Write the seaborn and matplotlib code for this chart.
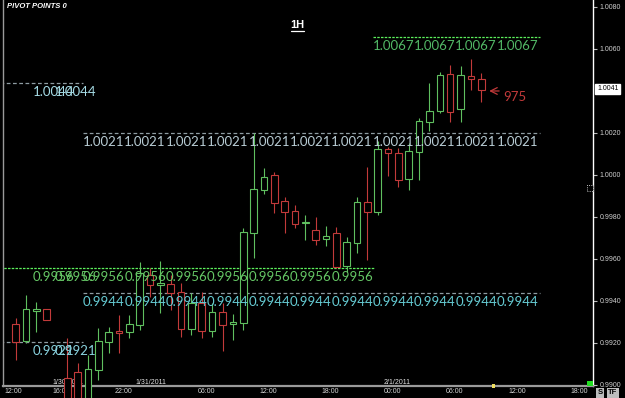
import matplotlib
matplotlib.use("Agg")
import matplotlib.pyplot as plt
import matplotlib.transforms as mtransforms
from matplotlib.patches import Rectangle
from matplotlib.lines import Line2D
from matplotlib import font_manager
import numpy as np
import pandas as pd
import seaborn as sns

# ---------------- data ----------------
slots = [-10, -9, -8, -7, -5, -4, -3, -2, -1, 0, 1, 2, 3, 4, 5, 6, 7, 8, 9, 10,
         11, 12, 13, 14, 15, 16, 17, 18, 19, 20, 21, 22, 23, 24, 25, 26, 27,
         28, 29, 30, 31, 32, 33, 34, 35]
opens = [0.99290, 0.99210, 0.99352, 0.99362, 0.99033, 0.99062, 0.98920, 0.99071,
         0.99205, 0.99257, 0.99252, 0.99286, 0.99524, 0.99476, 0.99481, 0.99443,
         0.99267, 0.99390, 0.99257, 0.99348, 0.99290, 0.99295, 0.99724, 0.99929,
         1.00000, 0.99876, 0.99829, 0.99771, 0.99738, 0.99695, 0.99724, 0.99567,
         0.99676, 0.99871, 0.99824, 1.00124, 1.00107, 0.99981, 1.00110, 1.00252,
         1.00305, 1.00481, 1.00312, 1.00473, 1.00456]
highs = [0.99319, 0.99429, 0.99395, 0.99362, 0.99224, 0.99105, 0.99143, 0.99271,
         0.99276, 0.99333, 0.99333, 0.99586, 0.99557, 0.99590, 0.99524, 0.99486,
         0.99438, 0.99443, 0.99390, 0.99390, 0.99338, 0.99748, 1.00200, 1.00033,
         1.00014, 0.99895, 0.99857, 0.99810, 0.99798, 0.99757, 0.99752, 0.99705,
         0.99895, 1.00038, 1.00162, 1.00133, 1.00129, 1.00152, 1.00271, 1.00438,
         1.00490, 1.00524, 1.00519, 1.00551, 1.00486]
lows = [0.99119, 0.99200, 0.99252, 0.99310, 0.98860, 0.98880, 0.98900, 0.99024,
        0.99152, 0.99152, 0.99224, 0.99262, 0.99419, 0.99343, 0.99357, 0.99229,
        0.99238, 0.99224, 0.99229, 0.99162, 0.99214, 0.99262, 0.99605, 0.99910,
        0.99819, 0.99724, 0.99748, 0.99690, 0.99667, 0.99662, 0.99557, 0.99538,
        0.99629, 0.99595, 0.99810, 0.99995, 0.99943, 0.99929, 0.99976, 1.00210,
        1.00295, 1.00252, 1.00252, 1.00405, 1.00349]
closes = [0.99205, 0.99362, 0.99362, 0.99310, 0.98900, 0.98920, 0.99076, 0.99210,
          0.99252, 0.99248, 0.99290, 0.99533, 0.99476, 0.99486, 0.99438, 0.99267,
          0.99390, 0.99257, 0.99348, 0.99286, 0.99300, 0.99729, 0.99933, 0.99990,
          0.99867, 0.99824, 0.99767, 0.99778, 0.99690, 0.99710, 0.99562, 0.99681,
          0.99869, 0.99824, 1.00124, 1.00105, 0.99974, 1.00114, 1.00257, 1.00305,
          1.00476, 1.00301, 1.00476, 1.00456, 1.00405]

time_tick_pos = [-11.1, -6.4, -0.4, 7.6, 13.6, 19.6, 25.6, 31.6, 37.6, 43.6]
time_tick_labels = ["12:00", "16:00", "22:00", "06:00", "12:00", "18:00",
                    "00:00", "06:00", "12:00", "18:00"]
date_pos = [-6.4, 1.6, 25.6]
date_labels = ["1/30/2011", "1/31/2011", "2/1/2011"]

# 1.0040 is hidden behind the current-price box in the reference
price_ticks = [0.9900, 0.9920, 0.9940, 0.9960, 0.9980, 1.0000,
               1.0020, 1.0060, 1.0080]

pivot_levels = [1.0067, 1.0044, 1.0021, 0.9956, 0.9944, 0.9921]
pivot_line_y = [1.00659, 1.00440, 1.00199, 0.99557, 0.99437, 0.99206]
pivot_start = [24.5, -11.5, -3.5, -11.5, -3.5, -11.5]
pivot_end = [40.7, -3.5, 40.7, 24.7, 40.7, -3.5]
pivot_label_x = [
    [24.5, 28.5, 32.5, 36.5],
    [-8.3, -6.2],
    [-3.5, 0.5, 4.5, 8.5, 12.5, 16.5, 20.5, 24.5, 28.5, 32.5, 36.5],
    [-8.3, -6.2, -3.5, 0.5, 4.5, 8.5, 12.5, 16.5, 20.5],
    [-3.5, 0.5, 4.5, 8.5, 12.5, 16.5, 20.5, 24.5, 28.5, 32.5, 36.5],
    [-8.3, -6.2],
]
pivot_line_colors = ["#5cf05c", "#8e9ca2", "#8e9ca2", "#5cf05c", "#8e9ca2", "#8e9ca2"]
pivot_text_colors = ["#52b866", "#a6dce6", "#b8ccd4", "#66c866", "#66ccd4", "#8ad4e0"]
pivot_dashes = [(2, 1), (3, 2), (3, 2), (2, 1), (3, 2), (3, 2)]

current_price = 1.0041
marker_price = 1.0040
marker_text = "975"

# ---------------- style ----------------
sns.set_theme(style="dark", rc={
    "axes.facecolor": "black",
    "figure.facecolor": "black",
    "savefig.facecolor": "black",
    "axes.grid": False,
})
names = {f.name for f in font_manager.fontManager.ttflist}
LCD = "Lato" if "Lato" in names else "DejaVu Sans"
NARROW = "Liberation Sans Narrow" if "Liberation Sans Narrow" in names else "Liberation Sans"
small = 6.0 if NARROW == "Liberation Sans Narrow" else 5.0
plt.rcParams["font.family"] = ["DejaVu Sans"]

W, H = 625, 398
fig = plt.figure(figsize=(W / 100, H / 100), dpi=100)
ax = fig.add_axes([3 / W, 12 / H, 590 / W, 386 / H])
ax.set_facecolor("black")
ax.set_xlim(-11.21, 45.8)
ax.set_ylim(0.98995, 1.008333)

green = "#5fbf5f"
red = "#c23a3a"

df = pd.DataFrame({"slot": slots, "open": opens, "high": highs,
                   "low": lows, "close": closes})
df["up"] = df["close"] >= df["open"]
body_w = 0.64
for _, r in df.iterrows():
    c = green if r["up"] else red
    ax.vlines(r["slot"], r["low"], r["high"], color=c, lw=0.8, zorder=3, clip_on=False)
    lo = min(r["open"], r["close"])
    hi = max(r["open"], r["close"])
    ax.add_patch(Rectangle((r["slot"] - body_w / 2, lo), body_w, max(hi - lo, 0.00002),
                           facecolor="black", edgecolor=c, lw=0.8, zorder=4, clip_on=False))

# pivot lines + repeated labels (labels overlap where the reference overlaps)
for lvl, ly, xs, xe, lx, lc, tc, ds in zip(pivot_levels, pivot_line_y, pivot_start,
                                           pivot_end, pivot_label_x, pivot_line_colors,
                                           pivot_text_colors, pivot_dashes):
    ln, = ax.plot([xs, xe], [ly, ly], color=lc, lw=0.9, zorder=2)
    ln.set_dashes(ds)
    for x in lx:
        ax.annotate(f"{lvl:.4f}", (x, ly), xytext=(0, -3), textcoords="offset pixels",
                    ha="left", va="top", color=tc, fontsize=9.5, family=LCD,
                    fontweight="normal", zorder=5)

# arrow and marker label
ax.annotate("", xy=(35.5, marker_price), xytext=(37.0, marker_price),
            arrowprops=dict(arrowstyle="->", color=red, lw=0.9), zorder=6)
ax.text(37.1, marker_price + 0.00002, marker_text, color=red, fontsize=9.5, family=LCD,
        ha="left", va="top", zorder=6)

# axes styling
ax.spines["top"].set_visible(False)
ax.spines["left"].set_color("#9a9a9a")
ax.spines["left"].set_linewidth(1.0)
ax.spines["bottom"].set_color("#9a9a9a")
ax.spines["bottom"].set_linewidth(1.6)
ax.spines["right"].set_color("white")
ax.spines["right"].set_linewidth(1.0)

ax.yaxis.tick_right()
ax.set_yticks(price_ticks)
ax.set_yticklabels([f"{v:.4f}" for v in price_ticks], family=NARROW)
ax.tick_params(axis="y", which="both", direction="out", length=3, width=0.8,
               color="#bbbbbb", labelcolor="#d0d0d0", labelsize=small, pad=2, left=False)
ax.set_xticks(time_tick_pos)
ax.set_xticklabels(time_tick_labels, family=NARROW, ha="left")
ax.tick_params(axis="x", direction="in", length=3, width=0.8, color="#9a9a9a",
               labelcolor="#d8d8d8", labelsize=small, pad=1.5)
for p, lab in zip(date_pos, date_labels):
    ax.text(p, 0.98995, lab, transform=ax.transData, ha="left", va="bottom",
            fontsize=small, family=NARROW, color="#e0e0e0")

# current price box on right axis
trans = mtransforms.blended_transform_factory(ax.transAxes, ax.transData)
ax.annotate(f"{current_price:.4f}", (1.0, current_price), xycoords=trans,
            xytext=(4, 0), textcoords="offset pixels", ha="left", va="center",
            fontsize=small, family=NARROW, color="black", annotation_clip=False,
            bbox=dict(boxstyle="square,pad=0.25", fc="white", ec="white"))

# fig texts / UI decorations
def fx(px):
    return px / W

def fy(py):
    return 1 - py / H

fig.text(fx(7), fy(7), "PIVOT POINTS 0", color="white", fontsize=5.5,
         family="Liberation Sans", fontweight="bold", fontstyle="italic",
         ha="left", va="center")
fig.text(fx(297.5), fy(25.5), "1H", color="white", fontsize=8,
         family="Liberation Sans", fontweight="bold", ha="center", va="center")
fig.add_artist(Line2D([fx(291), fx(304)], [fy(31), fy(31)], color="white", lw=0.9))

fig.patches.append(Rectangle((fx(587), fy(386)), 6 / W, 5 / H, transform=fig.transFigure,
                             fc="#22dd22", ec="none", zorder=10))
fig.patches.append(Rectangle((fx(492), fy(388)), 2.5 / W, 4 / H, transform=fig.transFigure,
                             fc="#f0e060", ec="none", zorder=10))
fig.patches.append(Rectangle((fx(587), fy(191)), 6 / W, 6 / H, transform=fig.transFigure,
                             fc="black", ec="white", lw=0.6, ls=":", zorder=10))
fig.text(fx(600), fy(393), "S", color="black", fontsize=5.5, family="Liberation Sans",
         fontweight="bold", ha="center", va="center",
         bbox=dict(boxstyle="square,pad=0.15", fc="#bdbdbd", ec="none"))
fig.text(fx(613), fy(393), "TF", color="black", fontsize=5.5, family="Liberation Sans",
         fontweight="bold", ha="center", va="center",
         bbox=dict(boxstyle="square,pad=0.15", fc="#bdbdbd", ec="none"))

fig.savefig("out.png", dpi=100, facecolor="black")
